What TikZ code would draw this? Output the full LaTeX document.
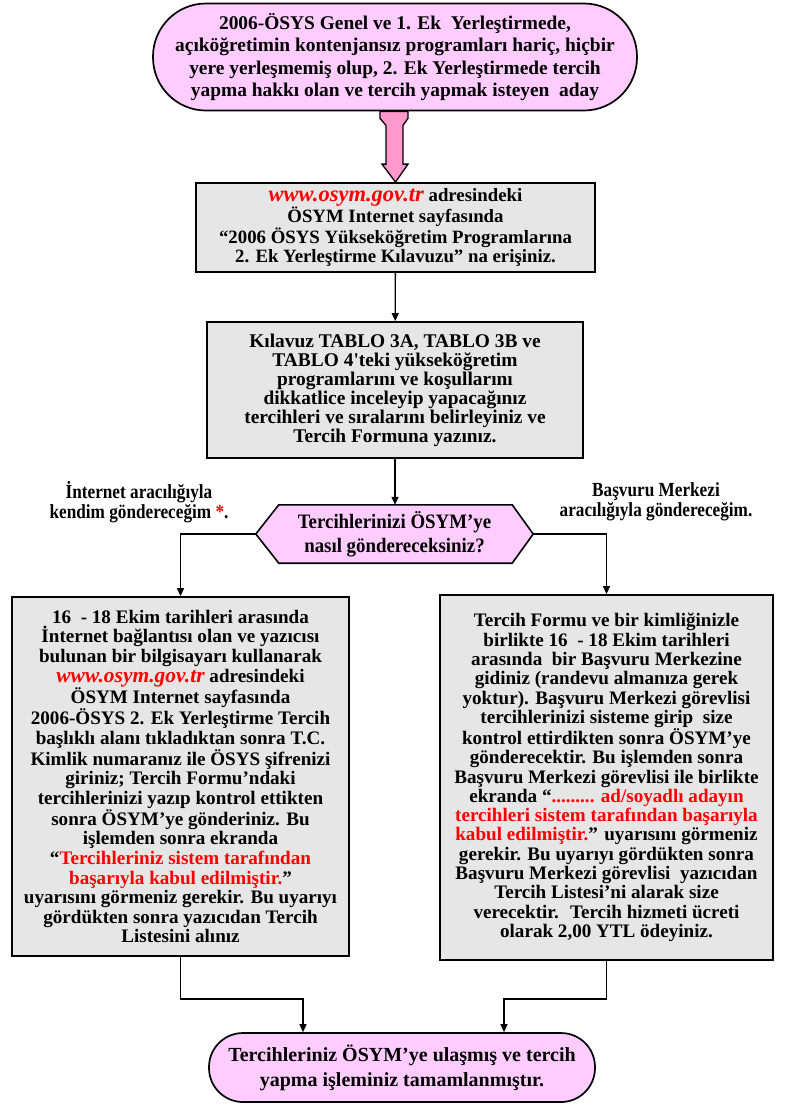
\documentclass[tikz,border=0pt]{standalone}
\usepackage{fontspec}
\setmainfont{Liberation Serif}
\newfontfamily\condfont{Liberation Serif}[FakeStretch=0.86]
\newfontfamily\hexfont{Liberation Serif}[FakeStretch=0.92]
\usetikzlibrary{arrows.meta,calc,backgrounds}
\definecolor{pinkfill}{HTML}{FFCCFF}
\definecolor{grayfill}{HTML}{E6E6E6}
\definecolor{arrowpink}{HTML}{FF99CC}
\definecolor{txtred}{HTML}{FF0000}
\newcommand{\rd}[1]{\textcolor{txtred}{#1}}
\newcommand{\osymurl}[1]{\textcolor{txtred}{\itshape\fontsize{#1}{1}\selectfont www.osym.gov.tr}}
\newcommand{\sq}{{\addfontfeature{Ligatures=TeXOff}'}}
\begin{document}
\begin{tikzpicture}[x=1pt,y=-1pt,
  term/.style={draw,line width=1.7pt,fill=pinkfill,align=center,inner sep=0pt},
  gbox/.style={draw,line width=1.8pt,fill=grayfill,align=center,inner sep=0pt},
  hexnode/.style={align=center,inner sep=0pt,minimum width=277pt,minimum height=58pt,font=\hexfont\bfseries\fontsize{20.5}{24}\selectfont},
  lbl/.style={align=center,inner sep=0pt,font=\condfont\bfseries\fontsize{20}{20}\selectfont},
  conn/.style={line width=1.3pt,-{Triangle[length=8pt,width=7pt]}}]
\useasboundingbox (0,0) rectangle (787,1106);
\begin{scope}[on background layer]
\fill[white] (0,0) rectangle (787,1106);
\end{scope}

\node[term,minimum width=484pt,minimum height=107pt,rounded corners=53pt,
      font=\bfseries\fontsize{19.4}{22.5}\selectfont] (top) at (395,57)
 {2006-ÖSYS Genel ve 1. Ek \ Yerleştirmede,\\
  açıköğretimin kontenjansız programları hariç, hiçbir\\
  yere yerleşmemiş olup, 2. Ek Yerleştirmede tercih\\
  yapma hakkı olan ve tercih yapmak isteyen \ aday};

\node[gbox,minimum width=399pt,minimum height=89pt,
      font=\bfseries\fontsize{18.8}{19.4}\selectfont] (box2) at (395.5,227.5)
 {\osymurl{22.5}\ adresindeki\\
  ÖSYM Internet sayfasında\\
  “2006 ÖSYS Yükseköğretim Programlarına\\
  2. Ek Yerleştirme Kılavuzu” na erişiniz.};

\begin{scope}[on background layer]
\filldraw[fill=arrowpink,line width=1.3pt,line join=miter]
  ($(top.south)+(-15,0)$) -- ($(top.south)+(-15,7)$) -- ($(top.south)+(-9,14)$)
  -- ($(box2.north)+(-9.5,-18)$) -- ($(box2.north)+(-13.5,-18)$) -- (box2.north)
  -- ($(box2.north)+(12.5,-18)$) -- ($(box2.north)+(7.5,-18)$)
  -- ($(top.south)+(8,14)$) -- ($(top.south)+(13,7)$) -- ($(top.south)+(13,0)$) -- cycle;
\end{scope}

\node[gbox,minimum width=376pt,minimum height=136pt,
      font=\bfseries\fontsize{19.4}{19}\selectfont] (box3) at (395,390)
 {Kılavuz TABLO 3A, TABLO 3B ve\\
  TABLO 4\sq teki yükseköğretim\\
  programlarını ve koşullarını\\
  dikkatlice inceleyip yapacağınız\\
  tercihleri ve sıralarını belirleyiniz ve\\
  Tercih Formuna yazınız.};

\node[hexnode] (hex) at (394.5,534)
 {Tercihlerinizi ÖSYM’ye\\nasıl göndereceksiniz?};
\begin{scope}[on background layer]
\filldraw[fill=pinkfill,line width=1.6pt]
  (hex.west) -- ($(hex.north west)+(23,0)$) -- ($(hex.north east)+(-21,0)$)
  -- (hex.east) -- ($(hex.south east)+(-21,0)$) -- ($(hex.south west)+(23,0)$) -- cycle;
\end{scope}

\node[lbl] (lblL) at (139,502) {İnternet aracılığıyla\\kendim göndereceğim \rd{*}.};
\node[lbl] (lblR) at (656,502) {Başvuru Merkezi\\aracılığıyla göndereceğim.};

\node[gbox,minimum width=337pt,minimum height=359pt,
      font=\bfseries\fontsize{19.1}{19.6}\selectfont] (box4) at (180.5,776.5)
 {16 \ - 18 Ekim tarihleri arasında\\
  İnternet bağlantısı olan ve yazıcısı\\
  bulunan bir bilgisayarı kullanarak\\
  \osymurl{21.5}\ adresindeki\\
  ÖSYM Internet sayfasında\\
  2006-ÖSYS 2. Ek Yerleştirme Tercih\\
  başlıklı alanı tıkladıktan sonra T.C.\\
  Kimlik numaranız ile ÖSYS şifrenizi\\
  giriniz; Tercih Formu’ndaki\\
  tercihlerinizi yazıp kontrol ettikten\\
  sonra ÖSYM’ye gönderiniz. Bu\\
  işlemden sonra ekranda\\
  “\rd{Tercihleriniz sistem tarafından}\\
  \rd{başarıyla kabul edilmiştir.}”\\
  uyarısını görmeniz gerekir. Bu uyarıyı\\
  gördükten sonra yazıcıdan Tercih\\
  Listesini alınız};

\node[gbox,minimum width=333pt,minimum height=365pt,
      font=\bfseries\fontsize{19.1}{19.3}\selectfont] (box5) at (606.5,777.5)
 {\rule{0pt}{10pt}Tercih Formu ve bir kimliğinizle\\
  birlikte 16 \ - 18 Ekim tarihleri\\
  arasında \ bir Başvuru Merkezine\\
  gidiniz (randevu almanıza gerek\\
  yoktur). Başvuru Merkezi görevlisi\\
  tercihlerinizi sisteme girip \ size\\
  kontrol ettirdikten sonra ÖSYM’ye\\
  gönderecektir. Bu işlemden sonra\\
  Başvuru Merkezi görevlisi ile birlikte\\
  ekranda “\rd{......... ad/soyadlı adayın}\\
  \rd{tercihleri sistem tarafından başarıyla}\\
  \rd{kabul edilmiştir.}” uyarısını görmeniz\\
  gerekir. Bu uyarıyı gördükten sonra\\
  Başvuru Merkezi görevlisi \ yazıcıdan\\
  Tercih Listesi’ni alarak size\\
  verecektir. \ Tercih hizmeti ücreti\\
  olarak 2,00 YTL ödeyiniz.};

\node[term,minimum width=386pt,minimum height=69pt,rounded corners=34pt,
      font=\bfseries\fontsize{20}{25}\selectfont] (bot) at (402,1067.5)
 {Tercihleriniz ÖSYM’ye ulaşmış ve tercih\\
  yapma işleminiz tamamlanmıştır.};

\draw[conn] (box2) -- (box3);
\draw[conn] (box3.south) -- (box3.south |- hex.north);
\draw[conn] (hex.west) -| (box4.north);
\draw[conn] (hex.east) -| (box5.north);
\draw[conn] (box4.south) -- ++(0,42) -| ($(bot.north)+(-99,0)$);
\draw[conn] (box5.south) -- ++(0,38) -| ($(bot.north)+(102,0)$);
\end{tikzpicture}
\end{document}
